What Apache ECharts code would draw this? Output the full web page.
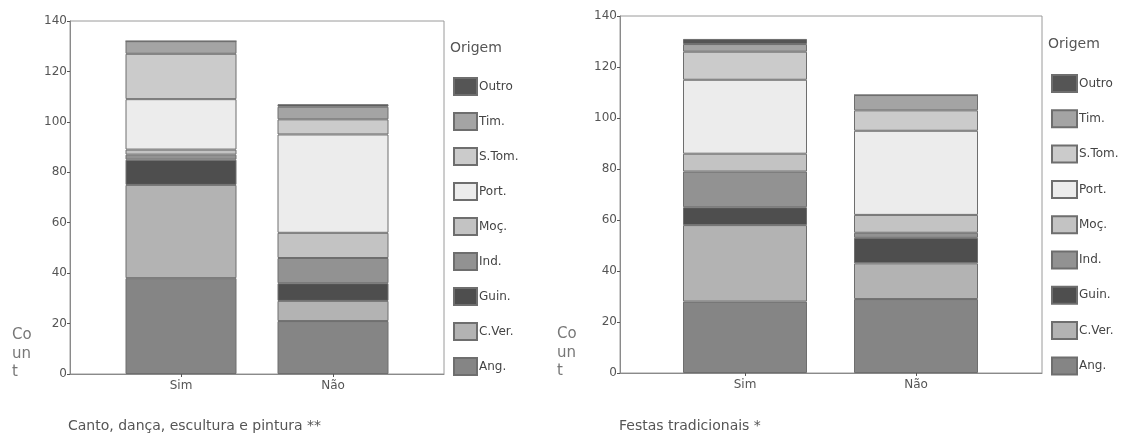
<!DOCTYPE html>
<html>
<head>
<meta charset="utf-8">
<script src="https://cdn.jsdelivr.net/npm/echarts@6/dist/echarts.min.js"></script>
<style>
html,body{margin:0;padding:0;background:#fff;}
#c{width:1130px;height:441px;}
</style>
</head>
<body>
<div id="c"></div>
<script>
// ---- data ----
var categories = ['Sim', 'Não'];
var origins = ['Ang.', 'C.Ver.', 'Guin.', 'Ind.', 'Moç.', 'Port.', 'S.Tom.', 'Tim.', 'Outro'];
var cantoSim  = [38, 37, 10, 2, 2, 20, 18, 5, 0];
var cantoNao  = [21, 8, 7, 10, 10, 39, 6, 5, 1];
var festasSim = [28, 30, 7, 14, 7, 29, 11, 3, 2];
var festasNao = [29, 14, 10, 2, 7, 33, 8, 6, 0];
var yMin = 0, yMax = 140, yStep = 20;
var chartTitles = ['Canto, dança, escultura e pintura **', 'Festas tradicionais *'];
var legendTitle = 'Origem';
var yName = 'Co\nun\nt';

// ---- styles ----
var colors = ['#858585', '#b3b3b3', '#4e4e4e', '#929292', '#c3c3c3', '#ececec', '#cbcbcb', '#a4a4a4', '#555555'];
var FONT = 'DejaVu Sans, Verdana, sans-serif';

var chart = echarts.init(document.getElementById('c'));

// frame grids (0: left, 2: right) carry the box, axis lines and y labels;
// bar grids (1: left, 3: right) carry the category axis and bars.
var grids = [
  {left: 70, top: 21, width: 374, height: 353, show: true, borderColor: '#9a9a9a', borderWidth: 1},
  {left: 105, top: 21, width: 304, height: 353},
  {left: 620, top: 16, width: 422, height: 357, show: true, borderColor: '#9a9a9a', borderWidth: 1},
  {left: 659.5, top: 16, width: 342, height: 357}
];

function frameX(gi) {
  return {type: 'value', gridIndex: gi, min: 0, max: 1, splitLine: {show: false},
    axisLine: {show: true, lineStyle: {color: '#8a8a8a', width: 1}},
    axisTick: {show: false}, axisLabel: {show: false}};
}
function frameY(gi) {
  return {type: 'value', gridIndex: gi, min: yMin, max: yMax, interval: yStep, splitLine: {show: false},
    axisLine: {show: true, lineStyle: {color: '#8a8a8a', width: 1}},
    axisTick: {show: true, length: 3, lineStyle: {color: '#555'}},
    axisLabel: {color: '#555', fontSize: 12, margin: 3, fontFamily: FONT}};
}
function barX(gi) {
  return {type: 'category', gridIndex: gi, data: categories, boundaryGap: true,
    axisLine: {show: false},
    axisTick: {show: true, alignWithLabel: true, length: 3, lineStyle: {color: '#555'}},
    axisLabel: {color: '#555', fontSize: 12, margin: 6, fontFamily: FONT}};
}
function barY(gi) {
  return {type: 'value', gridIndex: gi, min: yMin, max: yMax, interval: yStep, show: false, splitLine: {show: false}};
}

var series = [];
function addSeries(gi, simVals, naoVals, barW) {
  origins.forEach(function (name, i) {
    series.push({
      type: 'bar', name: name, xAxisIndex: gi, yAxisIndex: gi, stack: 'g' + gi,
      barWidth: barW,
      data: [simVals[i], naoVals[i]],
      itemStyle: {color: colors[i], borderColor: '#6e6e6e', borderWidth: 1},
      emphasis: {disabled: true},
      animation: false
    });
  });
}
addSeries(1, cantoSim, cantoNao, 111);
addSeries(3, festasSim, festasNao, 124);

var legendOrder = origins.slice().reverse();
var tStyle = function (size, color) {
  return {fontSize: size, fontWeight: 'normal', color: color, fontFamily: FONT, lineHeight: size === 15 ? 18.5 : undefined};
};

var option = {
  backgroundColor: '#fff',
  animation: false,
  textStyle: {fontFamily: FONT},
  grid: grids,
  xAxis: [frameX(0), barX(1), frameX(2), barX(3)],
  yAxis: [frameY(0), barY(1), frameY(2), barY(3)],
  legend: [
    {data: legendOrder, orient: 'vertical', left: 453, top: 77, padding: 0, itemWidth: 23, itemHeight: 17, itemGap: 16,
      icon: 'rect', selectedMode: false, textStyle: {fontSize: 12, color: '#444', fontFamily: FONT, padding: [0, 0, 0, -3]}},
    {data: legendOrder, orient: 'vertical', left: 1051, top: 74, padding: 0, itemWidth: 25, itemHeight: 17, itemGap: 16.3,
      icon: 'rect', selectedMode: false, textStyle: {fontSize: 12, color: '#444', fontFamily: FONT, padding: [0, 0, 0, -3]}}
  ],
  title: [
    {text: legendTitle, left: 450, top: 41, padding: 0, textStyle: tStyle(14, '#555')},
    {text: legendTitle, left: 1048, top: 37, padding: 0, textStyle: tStyle(14, '#555')},
    {text: yName, left: 12, top: 326, padding: 0, textStyle: tStyle(15, '#777')},
    {text: yName, left: 557, top: 325, padding: 0, textStyle: tStyle(15, '#777')},
    {text: chartTitles[0], left: 68, top: 419, padding: 0, textStyle: tStyle(14, '#555')},
    {text: chartTitles[1], left: 619, top: 419, padding: 0, textStyle: tStyle(14, '#555')}
  ],
  series: series
};
chart.setOption(option);
</script>
</body>
</html>
